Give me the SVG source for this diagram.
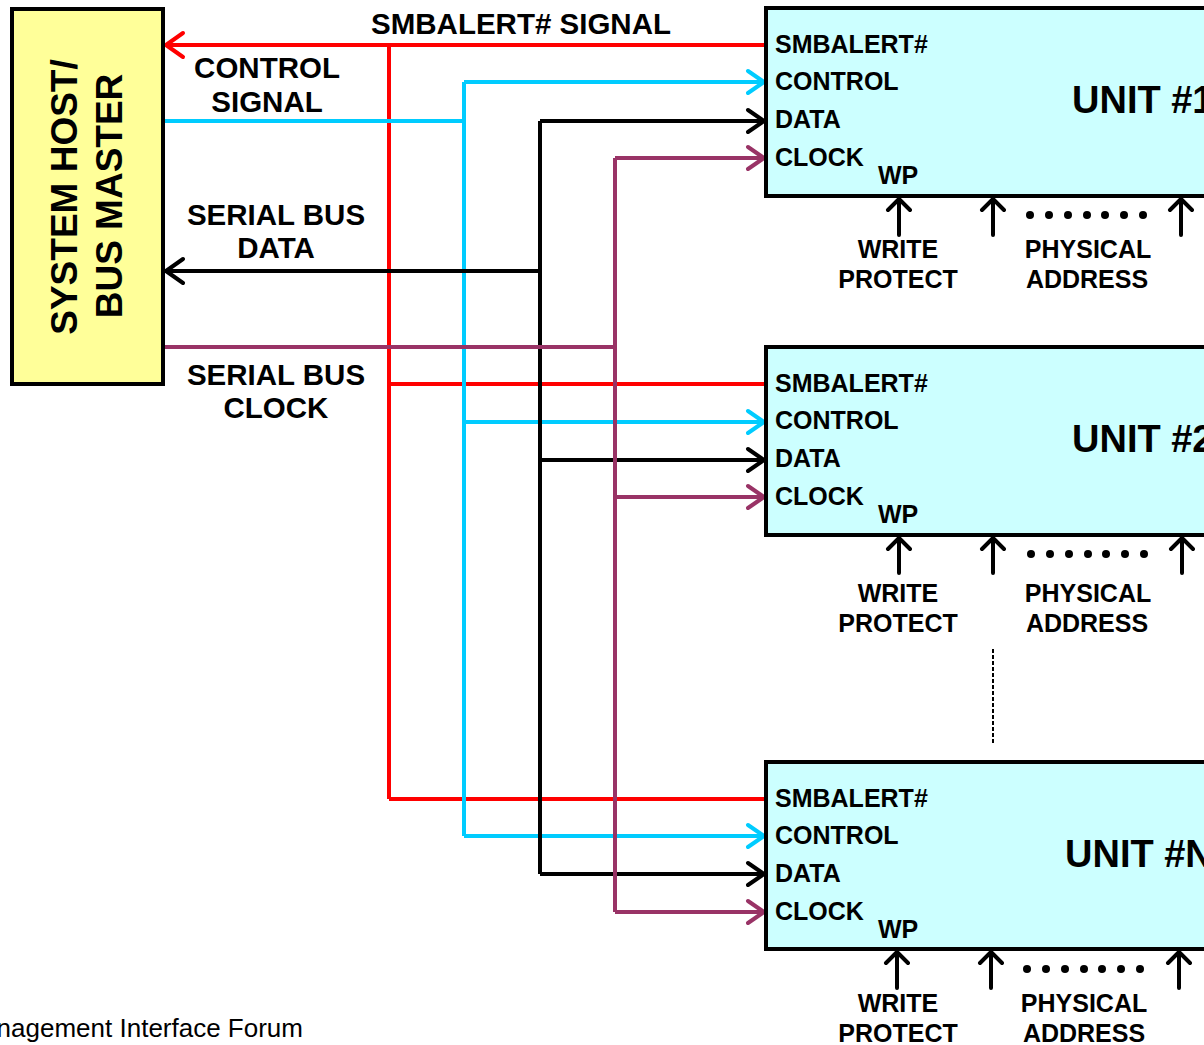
<svg xmlns="http://www.w3.org/2000/svg" width="1204" height="1045" viewBox="0 0 1204 1045">
<style>
text{font-family:"Liberation Sans",Arial,sans-serif;font-weight:bold;fill:#000}
.lbl{font-size:29.5px;text-anchor:middle}
.pin{font-size:25px}
.sub{font-size:25px;text-anchor:middle}
.unit{font-size:38px}
.box{stroke:#000;stroke-width:4}
.w{fill:none;stroke-width:4}
.red{stroke:#FF0000}.cy{stroke:#00CCFF}.bk{stroke:#000}.pu{stroke:#993366}
.ah{fill:none;stroke-width:4;stroke-linecap:round;stroke-linejoin:round}
.dot{fill:#000}
</style>
<rect width="1204" height="1045" fill="#fff"/>

<g id="connectors">
<path class="w red" d="M166 45H766M389 45V799M389 384H766M389 799H766"/>
<path class="ah red" d="M183 33L166 45L183 57"/>
<path class="w cy" d="M163 121H464M464 82V836M464 82H764M464 422H764M464 836H764"/>
<path class="ah cy" d="M748 71L764 82L748 93M748 411L764 422L748 433M748 825L764 836L748 847"/>
<path class="w bk" d="M166 271H540M540 121V874M540 121H764M540 460H764M540 874H764"/>
<path class="ah bk" d="M183 259L166 271L183 283M748 110L764 121L748 132M748 449L764 460L748 471M748 863L764 874L748 885"/>
<path class="w pu" d="M163 347H615M615 158V912M615 158H764M615 497H764M615 912H764"/>
<path class="ah pu" d="M748 147L764 158L748 169M748 486L764 497L748 508M748 901L764 912L748 923"/>
</g>

<g id="host">
<rect class="box" x="12" y="9" width="151" height="375" fill="#FFFF99"/>
<text style="font-size:37px;text-anchor:middle" transform="translate(77,197) rotate(-90)">SYSTEM HOST/</text>
<text style="font-size:37px;text-anchor:middle" transform="translate(122,196) rotate(-90)">BUS MASTER</text>
</g>

<g id="labels">
<text class="lbl" x="521" y="34">SMBALERT# SIGNAL</text>
<text class="lbl" x="267" y="78">CONTROL</text>
<text class="lbl" x="267" y="112">SIGNAL</text>
<text class="lbl" x="276" y="225">SERIAL BUS</text>
<text class="lbl" x="276" y="258">DATA</text>
<text class="lbl" x="276" y="385">SERIAL BUS</text>
<text class="lbl" x="276" y="418">CLOCK</text>
<text x="303" y="1037" style="font-weight:normal;font-size:26px;text-anchor:end">nagement Interface Forum</text>
</g>

<g id="unit1">
<rect class="box" x="766" y="8" width="460" height="188" fill="#CCFFFF"/>
<text class="pin" x="775" y="53">SMBALERT#</text>
<text class="pin" x="775" y="90">CONTROL</text>
<text class="pin" x="775" y="128">DATA</text>
<text class="pin" x="775" y="166">CLOCK</text>
<text class="pin" x="878" y="184">WP</text>
<text class="unit" x="1072" y="113">UNIT #1</text>
<path class="ah bk" d="M899 235V199M888 210L899 199L910 210M993 235V199M982 210L993 199L1004 210M1181 235V199M1170 210L1181 199L1192 210"/>
<g class="dot"><circle cx="1030" cy="215" r="4"/><circle cx="1049" cy="215" r="4"/><circle cx="1068" cy="215" r="4"/><circle cx="1087" cy="215" r="4"/><circle cx="1105" cy="215" r="4"/><circle cx="1124" cy="215" r="4"/><circle cx="1143" cy="215" r="4"/></g>
<text class="sub" x="898" y="258">WRITE</text>
<text class="sub" x="898" y="288">PROTECT</text>
<text class="sub" x="1088" y="258">PHYSICAL</text>
<text class="sub" x="1087" y="288">ADDRESS</text>
</g>

<g id="unit2">
<rect class="box" x="766" y="347" width="460" height="188" fill="#CCFFFF"/>
<text class="pin" x="775" y="392">SMBALERT#</text>
<text class="pin" x="775" y="429">CONTROL</text>
<text class="pin" x="775" y="467">DATA</text>
<text class="pin" x="775" y="505">CLOCK</text>
<text class="pin" x="878" y="523">WP</text>
<text class="unit" x="1072" y="452">UNIT #2</text>
<path class="ah bk" d="M899 573V538M888 549L899 538L910 549M993 573V538M982 549L993 538L1004 549M1182 573V538M1171 549L1182 538L1193 549"/>
<g class="dot"><circle cx="1031" cy="554" r="4"/><circle cx="1050" cy="554" r="4"/><circle cx="1069" cy="554" r="4"/><circle cx="1088" cy="554" r="4"/><circle cx="1106" cy="554" r="4"/><circle cx="1125" cy="554" r="4"/><circle cx="1144" cy="554" r="4"/></g>
<text class="sub" x="898" y="602">WRITE</text>
<text class="sub" x="898" y="632">PROTECT</text>
<text class="sub" x="1088" y="602">PHYSICAL</text>
<text class="sub" x="1087" y="632">ADDRESS</text>
</g>

<path id="ellipsis" d="M993 649V743" stroke="#000" stroke-width="2" stroke-dasharray="4 2"/>

<g id="unitN">
<rect class="box" x="766" y="762" width="460" height="187" fill="#CCFFFF"/>
<text class="pin" x="775" y="807">SMBALERT#</text>
<text class="pin" x="775" y="844">CONTROL</text>
<text class="pin" x="775" y="882">DATA</text>
<text class="pin" x="775" y="920">CLOCK</text>
<text class="pin" x="878" y="938">WP</text>
<text class="unit" x="1065" y="867">UNIT #N</text>
<path class="ah bk" d="M897 988V952M886 963L897 952L908 963M991 988V952M980 963L991 952L1002 963M1179 988V952M1168 963L1179 952L1190 963"/>
<g class="dot"><circle cx="1027" cy="969" r="4"/><circle cx="1046" cy="969" r="4"/><circle cx="1065" cy="969" r="4"/><circle cx="1084" cy="969" r="4"/><circle cx="1102" cy="969" r="4"/><circle cx="1121" cy="969" r="4"/><circle cx="1140" cy="969" r="4"/></g>
<text class="sub" x="898" y="1012">WRITE</text>
<text class="sub" x="898" y="1042">PROTECT</text>
<text class="sub" x="1084" y="1012">PHYSICAL</text>
<text class="sub" x="1084" y="1042">ADDRESS</text>
</g>
</svg>
